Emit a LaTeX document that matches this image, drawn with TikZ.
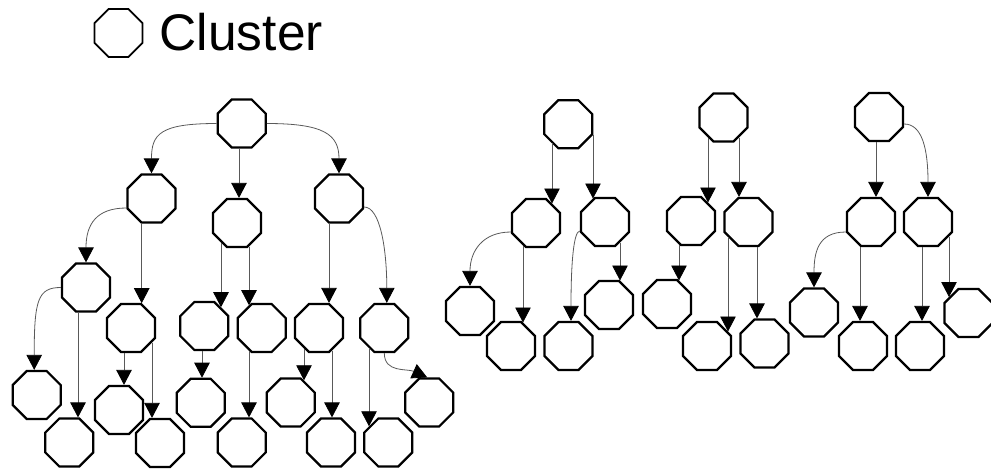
\documentclass[tikz,border=0pt]{standalone}
\usepackage{fontspec}
\setmainfont{Liberation Sans}
\usetikzlibrary{shapes.geometric,arrows.meta,calc}

% half height of an octagon (to the outer edge of its stroke) and half length of its flat top
\def\ap{25.1pt}
\def\hs{10.4pt}

% vertical link at absolute x = #3 from the bottom border of #1 to the top border of #2
\newcommand\droplink[3]{%
  \draw[link] let \p1=(#1.center), \p2=(#2.center),
      \n1={max(0pt,abs(#3pt-\x1)-\hs)},
      \n2={max(0pt,abs(#3pt-\x2)-\hs)} in
    (#3pt,\y1-\ap+\n1) -- (#3pt,\y2+\ap-\n2);}

\begin{document}
\begin{tikzpicture}[x=1pt,y=-1pt,
  cluster/.style={regular polygon,regular polygon sides=8,minimum size=52pt,
    inner sep=0pt,draw=black,line width=2.2pt,fill=white},
  link/.style={draw=black!65,line width=0.8pt,
    -{Triangle[length=15pt,width=15.5pt,color=black]}}]
\useasboundingbox (0,0) rectangle (991,469);

% legend
\node[cluster,line width=1.8pt] (key) at (118.5,33) {};
\node[anchor=base west,inner sep=0pt,font=\fontsize{51.5}{60}\selectfont] (keylabel) at (159.5,50) {Cluster};

% large tree
\node[cluster] (r) at (241.7,123.5) {};
\node[cluster] (a) at (151.5,198.5) {};
\node[cluster] (b) at (237,223) {};
\node[cluster] (c) at (339,198.5) {};
\node[cluster] (d) at (86,287.5) {};
\node[cluster] (e) at (131,328) {};
\node[cluster] (f) at (36.7,395) {};
\node[cluster] (g) at (69.3,442.5) {};
\node[cluster] (h) at (119,410) {};
\node[cluster] (i) at (160,443) {};
\node[cluster] (j) at (204.3,326) {};
\node[cluster] (k) at (261.7,328) {};
\node[cluster] (l) at (200.7,402.8) {};
\node[cluster] (m) at (241.7,442.5) {};
\node[cluster] (n) at (319,328) {};
\node[cluster] (o) at (384.3,328) {};
\node[cluster] (p) at (290.7,402.5) {};
\node[cluster] (q) at (331,442.5) {};
\node[cluster] (u) at (388.3,442.5) {};
\node[cluster] (s) at (429.2,402.5) {};

% second tree
\node[cluster] (t2) at (568.3,124.2) {};
\node[cluster] (t2l) at (536,223) {};
\node[cluster] (t2r) at (605,222) {};
\node[cluster] (u1) at (470,311) {};
\node[cluster] (u2) at (511,346) {};
\node[cluster] (u3) at (568.5,346) {};
\node[cluster] (u4) at (609,305) {};

% third tree
\node[cluster] (t3) at (723.5,117.5) {};
\node[cluster] (t3l) at (691,221) {};
\node[cluster] (t3r) at (748.5,222) {};
\node[cluster] (v1) at (667,304) {};
\node[cluster] (v2) at (707,346) {};
\node[cluster] (v3) at (764.5,343.5) {};

% fourth tree
\node[cluster] (t4) at (879,117) {};
\node[cluster] (t4l) at (871,222) {};
\node[cluster] (t4r) at (928,222) {};
\node[cluster] (w1) at (814,312.5) {};
\node[cluster] (w2) at (863,346) {};
\node[cluster] (w3) at (920,346) {};
\node[cluster] (w4) at (968.5,313) {};

% straight links
\droplink{r}{b}{239}
\droplink{a}{e}{141.7}
\droplink{d}{g}{78}
\droplink{e}{h}{124}
\droplink{e}{i}{152}
\droplink{b}{j}{221}
\droplink{b}{k}{249}
\droplink{j}{l}{202}
\droplink{k}{m}{249}
\droplink{c}{n}{329}
\droplink{n}{p}{304}
\droplink{n}{q}{332}
\droplink{o}{u}{369}

\droplink{t2}{t2l}{552}
\droplink{t2}{t2r}{593}
\droplink{t2l}{u2}{523}
\droplink{t2r}{u4}{620}

\droplink{t3}{t3l}{708}
\droplink{t3}{t3r}{739}
\droplink{t3l}{v1}{679}
\droplink{t3r}{v2}{728}
\droplink{t3r}{v3}{757}

\droplink{t4}{t4l}{876}
\droplink{t4l}{w2}{860}
\droplink{t4r}{w3}{922}
\droplink{t4r}{w4}{949}

% curved links
\draw[link] (r.west) .. controls +(-57,0) and +(0,-39) .. (a.north);
\draw[link] (r.east) .. controls +(57,0) and +(0,-39) .. (c.north);
\draw[link] ($(a.west)+(0,9.5)$) .. controls +(-30,0) and +(0,-38) .. (d.north);
\draw[link] ($(c.east)+(0,8.5)$) .. controls +(16,0) and +(0,-54) .. ($(o.north)+(2.5,0)$);
\draw[link] (d.west) .. controls +(-23,0) and +(0,-70) .. ($(f.north)+(-2.5,0)$);
\draw[link] (o.south) .. controls +(0,20) and +(-20,-9) .. ($(s.north)+(-2,0)$);

\draw[link] ($(t2l.west)+(0,9)$) .. controls +(-28,0) and +(0,-35) .. (u1.north);
\draw[link] ($(t2r.west)+(0,9)$) .. controls +(-6,0) and +(0,-60) .. ($(u3.north)+(2.5,0)$);

\draw[link] ($(t4.east)+(0,7)$) .. controls +(18,0) and +(0,-48) .. (t4r.north);
\draw[link] ($(t4l.west)+(0,10)$) .. controls +(-28,0) and +(0,-35) .. (w1.north);
\end{tikzpicture}
\end{document}
